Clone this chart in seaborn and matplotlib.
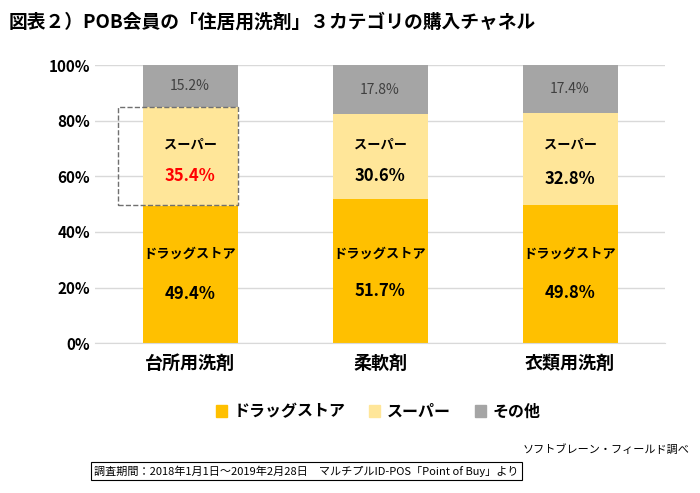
import matplotlib
matplotlib.use("Agg")
import matplotlib.pyplot as plt
import seaborn as sns
import pandas as pd
from matplotlib.patches import Rectangle

plt.rcParams["font.family"] = "Noto Sans CJK JP"

categories = ["台所用洗剤", "柔軟剤", "衣類用洗剤"]
drug = [49.4, 51.7, 49.8]
supermarket = [35.4, 30.6, 32.8]
other = [15.2, 17.8, 17.4]
series = ["ドラッグストア", "スーパー", "その他"]
colors = ["#FFC000", "#FFE699", "#A5A5A5"]

fig = plt.figure(figsize=(7, 4.93), dpi=100)
ax = fig.add_axes([0.136, 0.304, 0.814, 0.564])

tops3 = [d + s + o for d, s, o in zip(drug, supermarket, other)]
tops2 = [d + s for d, s in zip(drug, supermarket)]
for vals, c in [(tops3, colors[2]), (tops2, colors[1]), (drug, colors[0])]:
    df = pd.DataFrame({"cat": categories, "v": vals})
    sns.barplot(data=df, x="cat", y="v", color=c, width=0.5, ax=ax,
                saturation=1, edgecolor="none", zorder=2)

for i in range(3):
    ax.text(i, drug[i] / 2 - 7, f"{drug[i]:.1f}%", ha="center", va="center",
            fontsize=12, fontweight="bold")
    ax.text(i, 32, "ドラッグストア", ha="center", va="center", fontsize=9.5, fontweight="bold")
    ax.text(i, drug[i] + supermarket[i] / 2 - 7, f"{supermarket[i]:.1f}%", ha="center",
            va="center", fontsize=12, fontweight="bold",
            color="red" if i == 0 else "black")
    ax.text(i, 71.5, "スーパー", ha="center", va="center", fontsize=9.5, fontweight="bold")
    ax.text(i, tops2[i] + other[i] / 2, f"{other[i]:.1f}%", ha="center", va="center",
            fontsize=10, color="#404040")

ax.add_patch(Rectangle((-0.38, 49.5), 0.63, 35.5, fill=False, ls="--",
                       ec="#707070", lw=1, zorder=3))

ax.set_ylim(0, 100)
ax.set_xlim(-0.5, 2.5)
ax.set_yticks(range(0, 101, 20))
ax.set_yticklabels([f"{v}%" for v in range(0, 101, 20)], fontsize=11, fontweight="bold")
ax.tick_params(axis="x", labelsize=13, length=0, pad=8)
for t in ax.get_xticklabels():
    t.set_fontweight("bold")
ax.tick_params(axis="y", length=0)
ax.set_xlabel("")
ax.set_ylabel("")
ax.grid(axis="y", color="#D9D9D9", lw=1, zorder=0)
for s in ["top", "right", "left"]:
    ax.spines[s].set_visible(False)
ax.spines["bottom"].set_color("#D9D9D9")

fig.text(0.012, 0.955, "図表２）POB会員の「住居用洗剤」３カテゴリの購入チャネル",
         fontsize=13.5, fontweight="bold", va="center")

handles = [Rectangle((0, 0), 1, 1, color=c) for c in colors]
fig.legend(handles, series, loc="center", bbox_to_anchor=(0.54, 0.165), ncol=3,
           frameon=False, prop={"weight": "bold", "size": 11.5},
           handlelength=0.7, handleheight=0.7, columnspacing=1.5, handletextpad=0.4)

fig.text(0.985, 0.088, "ソフトブレーン・フィールド調べ", ha="right", va="center", fontsize=8)
fig.text(0.135, 0.045, "調査期間：2018年1月1日～2019年2月28日　マルチプルID-POS「Point of Buy」より",
         va="center", fontsize=8,
         bbox=dict(boxstyle="square,pad=0.3", fc="white", ec="black", lw=0.8))
fig.savefig("out.png", dpi=100)
